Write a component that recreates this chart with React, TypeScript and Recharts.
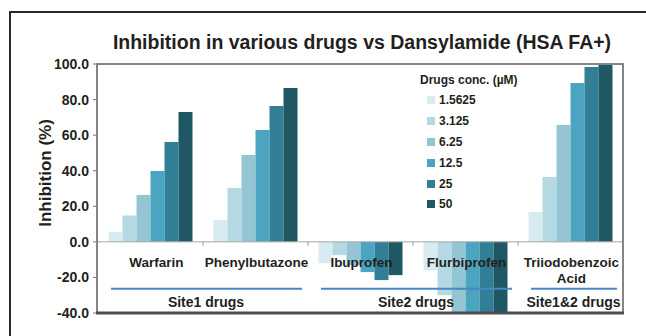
import React from 'react';
import { BarChart, Bar, XAxis, YAxis, ReferenceLine } from 'recharts';

const categories = ['Warfarin', 'Phenylbutazone', 'Ibuprofen', 'Flurbiprofen', 'Triiodobenzoic Acid'];
const concLabels = ['1.5625', '3.125', '6.25', '12.5', '25', '50'];
const conc1_5625 = [5.6, 12.4, -12.0, -16.0, 16.9];
const conc3_125 = [14.8, 30.3, -7.5, -30.0, 36.5];
const conc6_25 = [26.4, 48.9, -13.0, -45.0, 65.7];
const conc12_5 = [39.9, 62.9, -17.0, -45.0, 89.3];
const conc25 = [56.2, 76.4, -21.5, -45.0, 98.3];
const conc50 = [73.0, 86.5, -18.7, -45.0, 100.0];
const yTicks = [-40, -20, 0, 20, 40, 60, 80, 100];
const groupLabels = ['Site1 drugs', 'Site2 drugs', 'Site1&2 drugs'];
const groupSizes = [2, 2, 1];

const colors = ['#d7ebf1', '#b4d9e2', '#93c5d3', '#4ba5c0', '#317f97', '#1f5765'];
const FONT = '"Liberation Sans", Arial, sans-serif';
const TEXT = '#231f20';

const W = 646;
const H = 336;
const PLOT_LEFT = 98;
const PLOT_RIGHT = 623;
const PLOT_TOP = 64;
const PLOT_BOTTOM = 313;
const Y_MIN = -40;
const Y_MAX = 100;

const seriesValues = [conc1_5625, conc3_125, conc6_25, conc12_5, conc25, conc50];
const chartData = categories.map((name, i) => {
  const row: Record<string, string | number> = { name };
  concLabels.forEach((c, s) => {
    row[c] = seriesValues[s][i];
  });
  return row;
});

const bandWidth = (PLOT_RIGHT - PLOT_LEFT) / categories.length;
const zeroY = PLOT_TOP + ((PLOT_BOTTOM - PLOT_TOP) * Y_MAX) / (Y_MAX - Y_MIN);

// group start index for each category
const groupStarts: Record<number, number> = {};
let acc = 0;
groupSizes.forEach((n, g) => {
  groupStarts[acc] = g;
  acc += n;
});

const CategoryTick = (props: any) => {
  const { x, payload, index } = props;
  const lines = payload.value === 'Triiodobenzoic Acid' ? String(payload.value).split(' ') : [payload.value];
  const g = groupStarts[index];
  const left = x - bandWidth / 2;
  return (
    <g>
      {index < categories.length - 1 && (
        <line x1={x + bandWidth / 2} x2={x + bandWidth / 2} y1={zeroY} y2={zeroY + 4} stroke="#999" />
      )}
      {lines.map((t: string, k: number) => (
        <text
          key={k}
          x={x + (index === 0 ? 6 : 1)}
          y={zeroY + 25 + k * 16}
          textAnchor="middle"
          fontFamily={FONT}
          fontWeight="bold"
          fontSize={13.5}
          fill={TEXT}
        >
          {t}
        </text>
      ))}
      {g !== undefined && (
        <g>
          <line
            x1={left + 13}
            x2={left + groupSizes[g] * bandWidth - 6}
            y1={zeroY + 47}
            y2={zeroY + 47}
            stroke="#4a86c5"
            strokeWidth={2}
          />
          <text
            x={left + (groupSizes[g] * bandWidth) / 2 + 3}
            y={zeroY + 65}
            textAnchor="middle"
            fontFamily={FONT}
            fontWeight="bold"
            fontSize={14}
            fill={TEXT}
          >
            {groupLabels[g]}
          </text>
        </g>
      )}
    </g>
  );
};

const LegendBox = () => (
  <div
    style={{
      position: 'absolute',
      left: 420,
      top: 70,
      fontFamily: FONT,
      fontWeight: 'bold',
      color: TEXT,
      fontSize: 12,
      pointerEvents: 'none',
    }}
  >
    <div style={{ height: 20, lineHeight: '20px' }}>Drugs conc. (µM)</div>
    {concLabels.map((c, s) => (
      <div key={c} style={{ display: 'flex', alignItems: 'center', height: 20.8, paddingLeft: 7 }}>
        <span style={{ width: 8, height: 8, background: colors[s], marginRight: 4, display: 'inline-block' }} />
        <span>{c}</span>
      </div>
    ))}
  </div>
);

export default function App() {
  return (
    <div style={{ position: 'absolute', left: 0, top: 0, width: W, height: H, background: '#fff' }}>
      <BarChart
        width={W}
        height={H}
        data={chartData}
        margin={{ top: PLOT_TOP, right: W - PLOT_RIGHT, bottom: 0, left: 0 }}
        barCategoryGap="10%"
        barGap={0}
      >
        <YAxis
          domain={[Y_MIN, Y_MAX]}
          ticks={yTicks}
          allowDataOverflow
          width={PLOT_LEFT}
          tickSize={5}
          tickMargin={4}
          tickFormatter={(v: number) => v.toFixed(1)}
          axisLine={false}
          tickLine={{ stroke: '#777' }}
          tick={{ fill: TEXT, fontSize: 14, fontWeight: 'bold', fontFamily: FONT }}
        />
        <XAxis
          dataKey="name"
          height={H - PLOT_BOTTOM}
          axisLine={false}
          tickLine={false}
          tickSize={0}
          interval={0}
          tick={<CategoryTick />}
        />
        <ReferenceLine y={0} stroke="#a6a6a6" strokeWidth={1} />
        {concLabels.map((c, s) => (
          <Bar key={c} dataKey={c} name={c} fill={colors[s]} isAnimationActive={false} />
        ))}
      </BarChart>
      <LegendBox />
      <svg
        width={W}
        height={H}
        style={{ position: 'absolute', left: 0, top: 0, pointerEvents: 'none' }}
      >
        <path d={`M10,${H} L10,12 L${W},12`} fill="none" stroke="#2b2b2b" strokeWidth={2} />
        <rect
          x={PLOT_LEFT - 1}
          y={PLOT_TOP}
          width={PLOT_RIGHT - PLOT_LEFT + 1}
          height={PLOT_BOTTOM - PLOT_TOP}
          fill="none"
          stroke="#858585"
          strokeWidth={2}
        />
        <line x1={PLOT_LEFT - 2} x2={PLOT_RIGHT + 1} y1={PLOT_BOTTOM} y2={PLOT_BOTTOM} stroke="#4d4d4d" strokeWidth={3} />
        <text
          x={362}
          y={49}
          textAnchor="middle"
          fontFamily={FONT}
          fontWeight="bold"
          fontSize={19.5}
          fill={TEXT}
        >
          Inhibition in various drugs vs Dansylamide (HSA FA+)
        </text>
        <text
          x={51}
          y={173}
          transform="rotate(-90 51 173)"
          textAnchor="middle"
          fontFamily={FONT}
          fontWeight="bold"
          fontSize={17}
          fill={TEXT}
        >
          Inhibition (%)
        </text>
      </svg>
    </div>
  );
}
